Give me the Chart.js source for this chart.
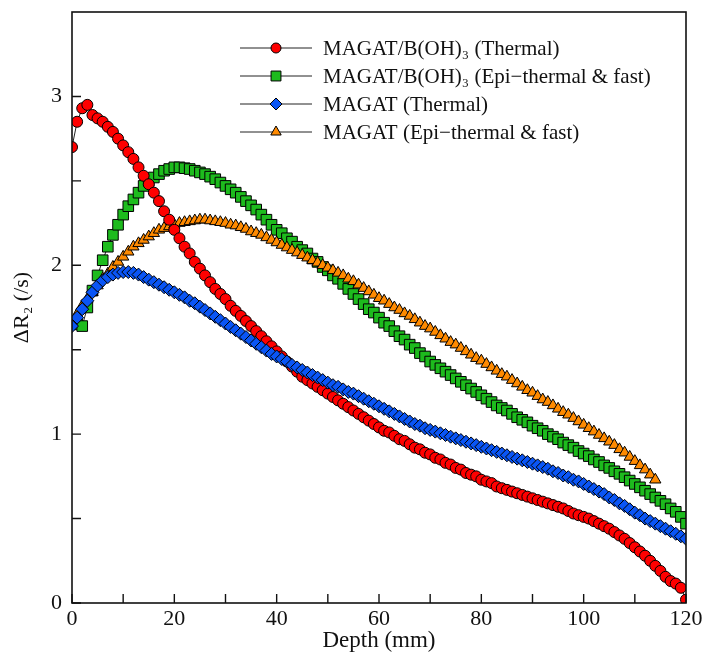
<!DOCTYPE html>
<html lang="en">
  <head>
    <meta charset="UTF-8" />
    <title>Delta R2 vs depth</title>
    <style>
    html, body { margin: 0; padding: 0; background: #fff; }
    #wrap { width: 705px; height: 655px; }
    </style>
    <script src="https://cdn.jsdelivr.net/npm/chart.js@4.4.1/dist/chart.umd.min.js"></script>
  </head>
  <body>
    <div id="wrap"><canvas id="chart" width="705" height="655"></canvas></div>

    <script>
      // depth (mm), one point per mm
      const depth = [0,1,2,3,4,5,6,7,8,9,10,11,12,13,14,15,16,17,18,19,20,21,22,23,24,25,26,27,28,29,30,
        31,32,33,34,35,36,37,38,39,40,41,42,43,44,45,46,47,48,49,50,51,52,53,54,55,56,57,58,59,60,
        61,62,63,64,65,66,67,68,69,70,71,72,73,74,75,76,77,78,79,80,81,82,83,84,85,86,87,88,89,90,
        91,92,93,94,95,96,97,98,99,100,101,102,103,104,105,106,107,108,109,110,111,112,113,114,115,116,117,118,119,120];

      // MAGAT/B(OH)3 thermal
      const boricThermal = [2.70,2.85,2.93,2.95,2.89,2.87,2.85,2.82,2.79,2.75,2.71,2.67,2.63,2.58,2.53,2.48,2.43,2.38,2.32,2.27,2.21,
        2.16,2.11,2.07,2.02,1.98,1.94,1.90,1.86,1.83,1.80,1.76,1.73,1.70,1.67,1.64,1.61,1.58,1.55,1.52,1.49,
        1.46,1.43,1.40,1.37,1.34,1.32,1.30,1.28,1.26,1.24,1.22,1.20,1.18,1.16,1.14,1.12,1.10,1.08,1.06,1.04,
        1.02,1.01,0.99,0.97,0.96,0.94,0.92,0.91,0.89,0.88,0.86,0.85,0.83,0.82,0.80,0.79,0.77,0.76,0.75,0.73,
        0.72,0.71,0.69,0.68,0.67,0.66,0.65,0.64,0.63,0.62,0.61,0.60,0.59,0.58,0.57,0.56,0.545,0.53,0.52,0.51,
        0.50,0.485,0.47,0.455,0.44,0.42,0.40,0.38,0.355,0.33,0.305,0.28,0.25,0.22,0.19,0.155,0.13,0.115,0.09,0.02];

      // MAGAT/B(OH)3 epi-thermal & fast
      const boricEpi = [1.66,1.65,1.64,1.75,1.85,1.94,2.03,2.11,2.18,2.24,2.30,2.35,2.39,2.43,2.47,2.50,2.52,2.54,2.56,2.57,2.58,
        2.58,2.575,2.57,2.56,2.55,2.54,2.525,2.51,2.49,2.47,2.45,2.43,2.405,2.38,2.355,2.33,2.30,2.27,2.24,2.21,
        2.19,2.16,2.14,2.11,2.09,2.07,2.04,2.02,1.99,1.97,1.94,1.92,1.89,1.86,1.83,1.80,1.77,1.74,1.72,1.69,
        1.66,1.64,1.61,1.58,1.56,1.53,1.51,1.48,1.46,1.43,1.41,1.39,1.37,1.35,1.33,1.31,1.29,1.27,1.25,1.23,
        1.21,1.19,1.17,1.155,1.14,1.12,1.10,1.085,1.07,1.05,1.035,1.02,1.00,0.985,0.97,0.95,0.935,0.92,0.90,0.885,
        0.87,0.85,0.835,0.815,0.80,0.78,0.765,0.745,0.725,0.705,0.685,0.665,0.645,0.625,0.605,0.585,0.56,0.54,0.51,0.47];

      // MAGAT thermal
      const magatThermal = [1.64,1.69,1.74,1.79,1.84,1.88,1.91,1.93,1.945,1.955,1.96,1.96,1.955,1.945,1.93,1.915,1.90,1.885,1.87,1.855,1.84,
        1.825,1.81,1.79,1.775,1.755,1.735,1.715,1.695,1.675,1.655,1.635,1.615,1.595,1.575,1.555,1.535,1.515,1.495,1.475,1.46,
        1.445,1.43,1.41,1.395,1.38,1.365,1.35,1.335,1.32,1.305,1.29,1.28,1.265,1.25,1.24,1.225,1.21,1.195,1.18,1.165,
        1.15,1.135,1.12,1.105,1.09,1.075,1.06,1.05,1.035,1.025,1.015,1.005,0.995,0.985,0.975,0.965,0.955,0.945,0.935,0.925,
        0.915,0.905,0.895,0.885,0.875,0.865,0.855,0.845,0.835,0.825,0.815,0.805,0.795,0.78,0.77,0.755,0.745,0.73,0.72,0.705,
        0.69,0.675,0.66,0.645,0.625,0.61,0.59,0.575,0.555,0.535,0.52,0.50,0.485,0.47,0.455,0.44,0.425,0.41,0.395,0.38];

      // MAGAT epi-thermal & fast (stops at 114 mm)
      const magatEpi = [1.66,1.71,1.76,1.80,1.84,1.88,1.92,1.95,1.99,2.02,2.05,2.08,2.11,2.13,2.15,2.17,2.19,2.21,2.22,2.23,2.24,
        2.25,2.255,2.26,2.265,2.27,2.27,2.265,2.26,2.255,2.25,2.24,2.235,2.225,2.215,2.20,2.19,2.18,2.165,2.15,2.135,
        2.12,2.105,2.09,2.075,2.06,2.045,2.03,2.015,2.00,1.985,1.97,1.955,1.94,1.92,1.905,1.885,1.865,1.845,1.825,1.805,
        1.79,1.77,1.75,1.735,1.715,1.70,1.68,1.66,1.64,1.625,1.605,1.585,1.565,1.545,1.53,1.51,1.49,1.47,1.45,1.435,
        1.415,1.395,1.375,1.355,1.34,1.32,1.30,1.28,1.26,1.245,1.225,1.205,1.19,1.17,1.15,1.13,1.115,1.095,1.075,1.055,
        1.035,1.015,0.995,0.975,0.955,0.935,0.91,0.89,0.865,0.84,0.815,0.79,0.76,0.73];

      const seriesLabels = [
        'MAGAT/B(OH)\u2083 (Thermal)',
        'MAGAT/B(OH)\u2083 (Epi\u2212thermal & fast)',
        'MAGAT (Thermal)',
        'MAGAT (Epi\u2212thermal & fast)'
      ];

      const xTicks = [0,10,20,30,40,50,60,70,80,90,100,110,120];
      const xLabelTicks = [0,20,40,60,80,100,120];
      const yTicks = [0,0.5,1,1.5,2,2.5,3];
      const yLabelTicks = [0,1,2,3];

      const serif = "'Liberation Serif', 'DejaVu Serif', serif";

      function toPoints(vals) {
        return vals.map((v, i) => ({x: depth[i], y: v}));
      }

      // frame + inward ticks
      const framePlugin = {
        id: 'frame',
        afterDatasetsDraw(chart) {
          const {ctx, chartArea: a, scales} = chart;
          ctx.save();
          ctx.strokeStyle = '#111';
          ctx.lineWidth = 1.6;
          ctx.strokeRect(a.left, a.top, a.right - a.left, a.bottom - a.top);
          ctx.lineWidth = 1.4;
          ctx.beginPath();
          xTicks.forEach(v => {
            const px = scales.x.getPixelForValue(v);
            ctx.moveTo(px, a.bottom);
            ctx.lineTo(px, a.bottom - 9);
          });
          yTicks.forEach(v => {
            const py = scales.y.getPixelForValue(v);
            ctx.moveTo(a.left, py);
            ctx.lineTo(a.left + 9, py);
          });
          ctx.stroke();
          ctx.restore();
        }
      };

      // legend drawn inside the plot, top right
      const legendPlugin = {
        id: 'insideLegend',
        afterDraw(chart) {
          const ctx = chart.ctx;
          const rows = [48, 76, 104, 132];
          ctx.save();
          chart.data.datasets.forEach((ds, i) => {
            const y = rows[i];
            ctx.strokeStyle = '#222';
            ctx.lineWidth = 1;
            ctx.beginPath();
            ctx.moveTo(240, y);
            ctx.lineTo(312, y);
            ctx.stroke();
            ctx.fillStyle = ds.pointBackgroundColor;
            ctx.strokeStyle = '#000';
            ctx.lineWidth = 1;
            Chart.helpers.drawPoint(ctx, {pointStyle: ds.pointStyle, radius: ds.legendRadius, rotation: 0, borderWidth: 1}, 276, y);
            ctx.fillStyle = '#111';
            ctx.font = '21px ' + serif;
            ctx.textBaseline = 'middle';
            ctx.textAlign = 'left';
            ctx.fillText(seriesLabels[i], 323, y + 1);
          });
          ctx.restore();
        }
      };

      function makeSet(i, vals, color, style, radius, legendRadius, order) {
        return {
          label: seriesLabels[i],
          data: toPoints(vals),
          borderColor: '#222',
          borderWidth: 1,
          pointStyle: style,
          pointRadius: radius,
          pointBackgroundColor: color,
          pointBorderColor: '#000',
          pointBorderWidth: 1,
          legendRadius: legendRadius,
          fill: false,
          tension: 0,
          order: order
        };
      }

      const ctx = document.getElementById('chart').getContext('2d');
      const myChart = new Chart(ctx, {
        type: 'line',
        data: {
          datasets: [
            makeSet(0, boricThermal, '#ff0000', 'circle', 5.5, 5, 2),
            makeSet(1, boricEpi, '#1dbb1d', 'rect', 7.5, 7, 4),
            makeSet(2, magatThermal, '#0a55f5', 'rectRot', 6.5, 6, 1),
            makeSet(3, magatEpi, '#ff8a00', 'triangle', 6.5, 6, 3)
          ]
        },
        options: {
          responsive: false,
          animation: false,
          devicePixelRatio: 1,
          layout: { padding: { top: 12, right: 19, left: 0, bottom: 0 } },
          plugins: {
            legend: { display: false },
            tooltip: { enabled: false }
          },
          scales: {
            x: {
              type: 'linear',
              min: 0,
              max: 120,
              grid: { display: false, drawTicks: false },
              border: { display: false },
              afterFit: s => { s.height = 52; s.paddingLeft = 0; s.paddingRight = 0; },
              afterBuildTicks: s => { s.ticks = xLabelTicks.map(v => ({value: v})); },
              ticks: {
                padding: 3,
                maxRotation: 0,
                autoSkip: false,
                color: '#111',
                font: { family: serif, size: 22 }
              },
              title: {
                display: true,
                text: 'Depth (mm)',
                color: '#111',
                padding: { top: 0, bottom: 0 },
                font: { family: serif, size: 23 }
              }
            },
            y: {
              type: 'linear',
              min: 0,
              max: 3.5,
              grid: { display: false, drawTicks: false },
              border: { display: false },
              afterFit: s => { s.width = 72; s.paddingTop = 0; s.paddingBottom = 0; },
              afterBuildTicks: s => { s.ticks = yLabelTicks.map(v => ({value: v})); },
              ticks: {
                padding: 10,
                autoSkip: false,
                color: '#111',
                font: { family: serif, size: 22 }
              },
              title: {
                display: true,
                text: '\u0394R\u2082 (/s)',
                color: '#111',
                padding: { top: 9, bottom: 0 },
                font: { family: serif, size: 22 }
              }
            }
          }
        },
        plugins: [framePlugin, legendPlugin]
      });
    </script>
  </body>
</html>
